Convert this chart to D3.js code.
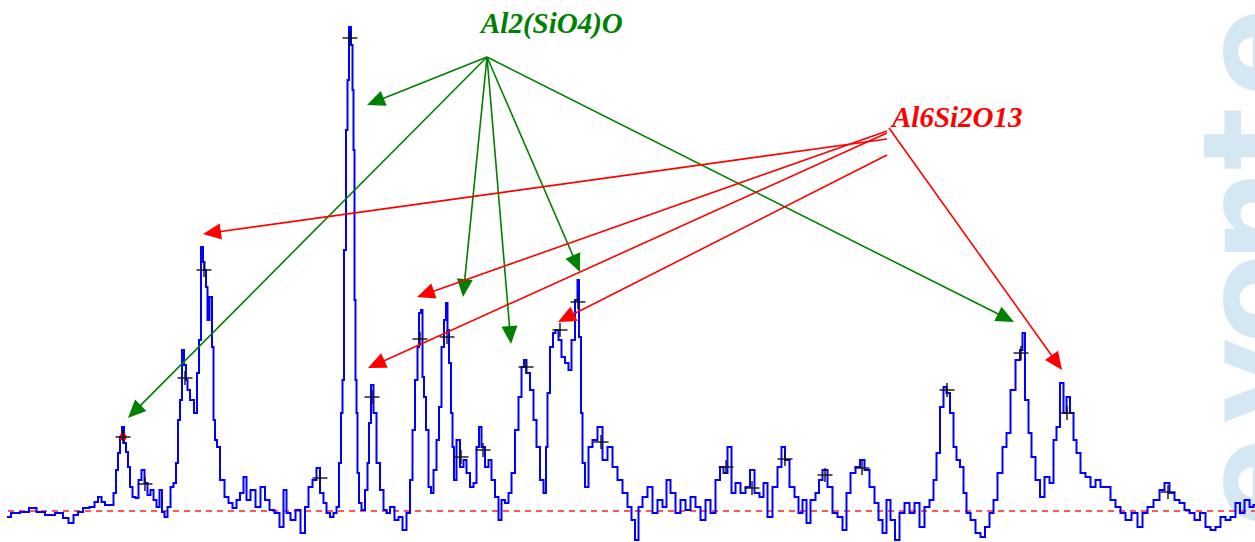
<!DOCTYPE html>
<html>
<head>
<meta charset="utf-8">
<script src="https://cdn.jsdelivr.net/npm/d3@7/dist/d3.min.js"></script>
<style>
  body { margin: 0; background: #fff; }
  svg { display: block; }
</style>
</head>
<body>
<div id="xrd"></div>
<script>
// measured pattern, 2-theta (deg) vs counts
var twoTheta = [5.35,5.75,6.25,6.65,7.00,7.50,8.00,8.30,8.55,8.80,9.00,9.30,9.65,9.80,10.00,10.15,10.35,10.60,10.75,10.85,10.95,11.05,11.15,11.25,11.35,11.45,11.55,11.70,11.85,12.00,12.15,12.30,12.45,12.60,12.75,12.90,13.05,13.15,13.30,13.45,13.60,13.75,13.85,13.95,14.05,14.15,14.25,14.35,14.40,14.60,14.80,14.90,15.00,15.10,15.20,15.25,15.35,15.40,15.55,15.65,15.70,15.80,15.90,16.10,16.35,16.50,16.75,16.90,17.10,17.25,17.40,17.65,17.90,18.15,18.35,18.60,18.85,19.10,19.25,19.40,19.65,19.90,20.15,20.35,20.50,20.75,20.90,21.10,21.25,21.40,21.60,21.75,21.90,22.00,22.10,22.15,22.25,22.35,22.40,22.50,22.60,22.65,22.70,22.75,22.80,22.85,22.90,23.00,23.15,23.35,23.40,23.50,23.60,23.75,23.90,24.10,24.25,24.40,24.60,24.85,25.00,25.25,25.40,25.60,25.65,25.85,25.90,26.00,26.10,26.15,26.25,26.35,26.50,26.60,26.75,26.90,27.00,27.15,27.25,27.35,27.40,27.50,27.60,27.65,27.75,27.90,28.10,28.25,28.40,28.60,28.75,28.90,29.00,29.15,29.35,29.50,29.65,29.85,30.00,30.15,30.35,30.50,30.65,30.85,31.00,31.15,31.25,31.40,31.60,31.75,31.90,32.10,32.25,32.35,32.40,32.60,32.70,32.85,33.00,33.15,33.35,33.50,33.65,33.85,33.90,34.00,34.10,34.15,34.35,34.50,34.75,35.00,35.25,35.50,35.75,36.00,36.25,36.50,36.65,36.85,37.00,37.25,37.50,37.75,38.00,38.25,38.40,38.65,38.90,39.15,39.40,39.65,39.90,40.15,40.40,40.65,40.90,41.10,41.25,41.50,41.65,41.90,42.15,42.40,42.60,42.85,43.10,43.25,43.50,43.75,44.00,44.15,44.35,44.60,44.85,45.00,45.25,45.40,45.65,45.90,46.00,46.25,46.50,46.75,47.00,47.25,47.40,47.65,47.90,48.10,48.35,48.60,48.85,49.00,49.25,49.40,49.65,49.85,50.10,50.35,50.60,50.85,51.10,51.35,51.60,51.75,51.90,52.10,52.25,52.40,52.60,52.75,52.90,53.10,53.25,53.40,53.65,53.90,54.15,54.35,54.60,54.75,55.00,55.25,55.40,55.65,55.90,56.10,56.15,56.35,56.50,56.65,56.90,57.10,57.35,57.60,57.75,57.90,58.10,58.25,58.40,58.60,58.75,58.90,59.15,59.40,59.65,59.90,60.15,60.40,60.65,60.90,61.15,61.40,61.75,62.00,62.25,62.50,62.85,63.10,63.35,63.60,63.85,64.10,64.35,64.60,64.85,65.15,65.40,65.65,65.90,66.15,66.40,66.65,66.90,67.10,67.35,67.60,67.75];
var counts = [43,47,48,52,48,45,47,42,37,45,48,52,53,58,63,58,55,55,67,90,107,123,133,117,108,93,73,63,62,80,90,77,65,70,60,53,70,48,43,53,73,77,97,140,160,210,195,180,170,160,147,187,220,313,298,290,273,240,263,213,140,120,113,80,63,57,52,60,67,83,60,70,53,73,60,50,47,33,70,47,40,50,27,53,73,80,92,67,57,47,43,47,53,97,147,180,310,430,480,533,515,470,410,260,180,147,87,57,50,70,97,137,175,147,97,70,50,47,53,40,43,30,47,80,130,180,213,247,250,183,163,130,73,67,90,120,153,213,240,257,230,197,147,113,80,120,93,100,87,73,77,113,133,113,93,100,80,63,40,60,57,67,87,130,163,193,200,187,170,140,113,80,67,113,167,213,227,230,220,203,197,190,220,260,280,223,147,97,73,113,120,133,100,113,93,80,67,53,40,20,53,63,73,47,60,53,80,67,47,60,50,63,53,40,60,47,80,93,87,113,67,77,67,73,90,67,63,77,43,73,93,113,100,73,63,47,60,37,60,67,80,90,73,47,43,30,67,87,93,100,90,73,57,40,27,60,40,20,47,57,47,57,33,53,60,80,107,153,173,167,147,113,100,93,67,47,40,27,23,33,47,60,87,113,127,170,200,210,227,160,127,103,80,63,83,77,120,133,177,147,163,147,120,107,87,83,73,80,73,73,60,53,47,40,47,33,47,53,60,70,77,67,60,57,50,47,40,47,33,30,33,43,40,43,57,47,60,53,55];

// peak search markers
var peakTheta = [11.15,12.25,14.25,15.20,21.00,22.50,23.60,26.00,27.35,28.05,29.15,31.30,33.00,33.90,35.05,41.30,42.60,44.25,46.25,48.10,52.35,56.05,58.35,63.40];
var peakCounts = [123,76,182,290,82,522,163,221,223,103,110,193,230,258,118,93,72,101,85,92,170,207,147,68];

var backgroundLevel = 49;

// phase identification
var phaseNames = ["Al2(SiO4)O", "Al6Si2O13"];
var sillimaniteTheta = [23.35,11.40,28.15,30.55,34.00,55.70];
var sillimaniteCounts = [455,142,263,216,288,238];
var mulliteTheta = [15.15,25.85,23.40,32.90,58.10];
var mulliteCounts = [326,263,192,238,190];

var watermarkLetters = ["e", "v", "o", "n", "t", "e"];

var width = 1255, height = 542;

var svg = d3.select("#xrd").append("svg")
    .attr("width", width)
    .attr("height", height);

var x = d3.scaleLinear().domain([5, 67.75]).range([0, width]);
var y = d3.scaleLinear().domain([0, 530]).range([560, 30]);

// watermark, one letter at a time, reading upwards
var wm = svg.append("g")
    .style("font-family", "DejaVu Sans")
    .style("font-weight", "bold")
    .style("font-size", "132px")
    .attr("fill", "#a9cfe8")
    .attr("fill-opacity", 0.5);
var wmCenters = [482, 381, 299, 216, 139, 52];
watermarkLetters.forEach(function (c, i) {
    wm.append("text")
        .attr("transform", "translate(1297," + wmCenters[i] + ")rotate(-90)")
        .attr("text-anchor", "middle")
        .text(c);
});

// background line
svg.append("line")
    .attr("x1", x(5.4)).attr("x2", x(67.75))
    .attr("y1", y(backgroundLevel)).attr("y2", y(backgroundLevel))
    .attr("stroke", "#ff2020")
    .attr("stroke-width", 1.4)
    .attr("stroke-dasharray", "6,5");

var pts = twoTheta.map(function (t, i) { return [t, counts[i]]; });

var line = d3.line()
    .x(function (d) { return x(d[0]); })
    .y(function (d) { return y(d[1]); })
    .curve(d3.curveStep);

svg.append("path")
    .datum(pts)
    .attr("d", line)
    .attr("fill", "none")
    .attr("stroke", "#0000ff")
    .attr("stroke-width", 2);

// first peak highlighted
svg.append("circle")
    .attr("cx", x(peakTheta[0])).attr("cy", y(peakCounts[0]))
    .attr("r", 3.5)
    .attr("fill", "#e00000");

var marks = svg.append("g").attr("stroke", "#111").attr("stroke-width", 1.4);
peakTheta.forEach(function (t, i) {
    var cx = x(t), cy = y(peakCounts[i]);
    marks.append("line").attr("x1", cx - 7.5).attr("x2", cx + 7.5).attr("y1", cy).attr("y2", cy);
    marks.append("line").attr("x1", cx).attr("x2", cx).attr("y1", cy - 7).attr("y2", cy + 7);
});

function arrow(g, x0, y0, x1, y1, color) {
    var dx = x1 - x0, dy = y1 - y0;
    var len = Math.sqrt(dx * dx + dy * dy);
    var ux = dx / len, uy = dy / len;
    var hl = 18, hw = 8;
    var bx = x1 - ux * hl, by = y1 - uy * hl;
    g.append("line")
        .attr("x1", x0).attr("y1", y0)
        .attr("x2", bx + ux * 2).attr("y2", by + uy * 2)
        .attr("stroke", color).attr("stroke-width", 1.6);
    g.append("polygon")
        .attr("points", [[x1, y1], [bx - uy * hw, by + ux * hw], [bx + uy * hw, by - ux * hw]].map(function (p) { return p.join(","); }).join(" "))
        .attr("fill", color);
}

var ann = svg.append("g");

// Al2(SiO4)O
var gx = x(29.35), gy = y(503);
sillimaniteTheta.forEach(function (t, i) {
    arrow(ann, gx, gy, x(t), y(sillimaniteCounts[i]), "#008000");
});

// Al6Si2O13
var redFrom = [[49.35, 421], [49.35, 429], [49.35, 427], [49.35, 405], [49.45, 432]];
mulliteTheta.forEach(function (t, i) {
    arrow(ann, x(redFrom[i][0]), y(redFrom[i][1]), x(t), y(mulliteCounts[i]), "#ff0000");
});

svg.append("text")
    .attr("x", x(29.05)).attr("y", 33)
    .style("font-family", "Liberation Serif")
    .style("font-weight", "bold")
    .style("font-style", "italic")
    .style("font-size", "29px")
    .attr("fill", "#008000")
    .text(phaseNames[0]);

svg.append("text")
    .attr("x", x(49.6)).attr("y", 127)
    .style("font-family", "Liberation Serif")
    .style("font-weight", "bold")
    .style("font-style", "italic")
    .style("font-size", "29px")
    .attr("fill", "#ff0000")
    .text(phaseNames[1]);
</script>
</body>
</html>
